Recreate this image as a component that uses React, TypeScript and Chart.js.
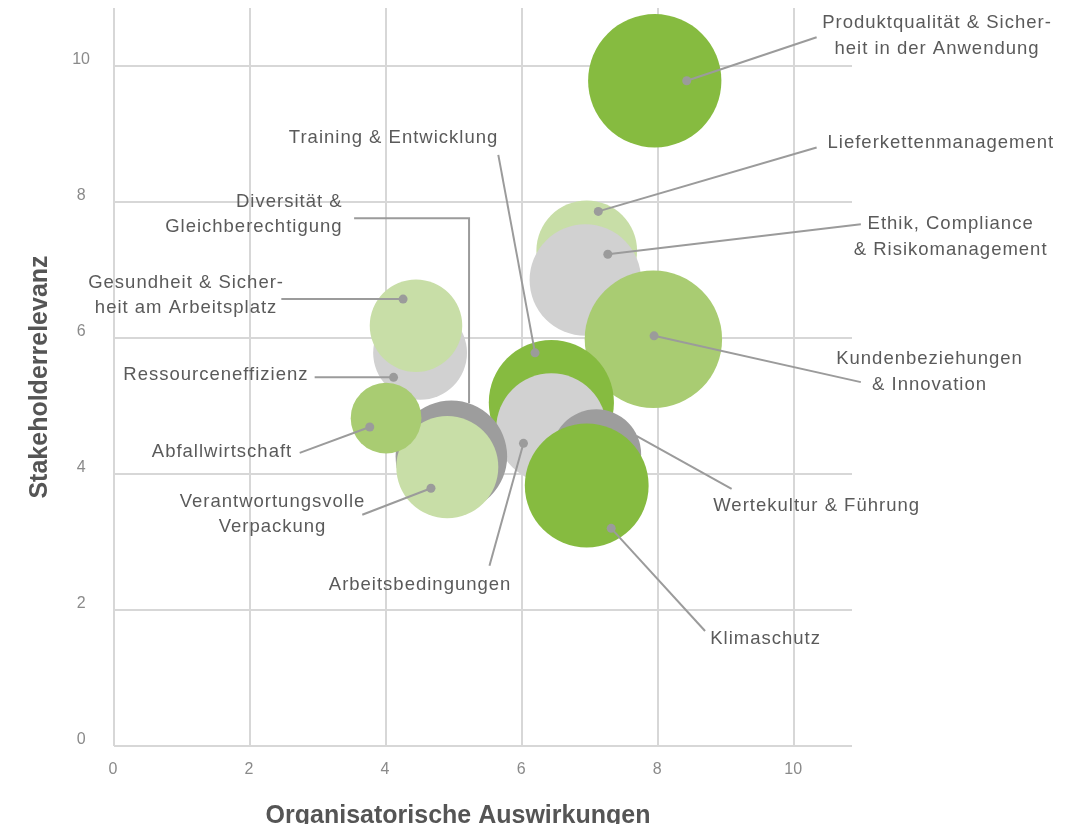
import React, { useEffect, useRef } from "react";
import { Chart, registerables } from "chart.js";

Chart.register(...registerables);

// ---- Data (drawing order: first = bottom) ----
const topics = [
  "Lieferkettenmanagement",
  "Ethik, Compliance & Risikomanagement",
  "Kundenbeziehungen & Innovation",
  "Training & Entwicklung",
  "Arbeitsbedingungen",
  "Wertekultur & Führung",
  "Klimaschutz",
  "Produktqualität & Sicherheit in der Anwendung",
  "Ressourceneffizienz",
  "Gesundheit & Sicherheit am Arbeitsplatz",
  "Diversität & Gleichberechtigung",
  "Verantwortungsvolle Verpackung",
  "Abfallwirtschaft",
];
const impact = [6.95, 6.93, 7.93, 6.43, 6.43, 7.09, 6.95, 7.95, 4.5, 4.44, 4.96, 4.9, 4.0];
const relevance = [7.28, 6.85, 5.98, 5.05, 4.67, 4.29, 3.83, 9.78, 5.78, 6.18, 4.26, 4.1, 4.82];
// bubble radius expressed in axis units
const weight = [0.74, 0.82, 1.01, 0.92, 0.81, 0.66, 0.91, 0.98, 0.69, 0.68, 0.82, 0.75, 0.52];
const group = ["light", "gray", "mid", "dark", "gray", "slate", "dark", "dark", "gray", "light", "slate", "light", "mid"];

const groupColors: Record<string, string> = {
  dark: "#86bb40",
  mid: "#a9cc72",
  light: "#c8dea7",
  gray: "#d1d1d1",
  slate: "#9d9d9d",
};

// ---- Annotation labels (data coordinates) ----
const labelText = [
  "Lieferkettenmanagement",
  "Ethik, Compliance\n& Risikomanagement",
  "Kundenbeziehungen\n& Innovation",
  "Training & Entwicklung",
  "Arbeitsbedingungen",
  "Wertekultur & Führung",
  "Klimaschutz",
  "Produktqualität & Sicher-\nheit in der Anwendung",
  "Ressourceneffizienz",
  "Gesundheit & Sicher-\nheit am Arbeitsplatz",
  "Diversität &\nGleichberechtigung",
  "Verantwortungsvolle\nVerpackung",
  "Abfallwirtschaft",
];
const labelX = [10.49, 12.3, 11.99, 4.11, 4.5, 10.33, 9.58, 12.1, 2.86, 1.06, 3.36, 2.33, 2.62];
const labelY = [8.86, 7.67, 5.69, 8.94, 2.37, 3.53, 1.57, 10.63, 5.45, 6.81, 8.0, 3.59, 4.32];
const labelAlign = ["left", "center", "center", "center", "center", "center", "center", "center", "right", "center", "right", "center", "right"];

// leader line points [x, y, x, y, ...]; first point is the marker dot
const leaders: number[][] = [
  [7.12, 7.86, 10.33, 8.8],
  [7.26, 7.23, 10.98, 7.67],
  [7.94, 6.03, 10.98, 5.35],
  [6.19, 5.78, 5.65, 8.69],
  [6.02, 4.45, 5.52, 2.65],
  [7.68, 4.56, 9.08, 3.78],
  [7.31, 3.2, 8.69, 1.69],
  [8.42, 9.78, 10.33, 10.42],
  [4.11, 5.42, 2.95, 5.42],
  [4.25, 6.57, 2.46, 6.57],
  [5.22, 5.04, 5.22, 7.76, 3.53, 7.76],
  [4.66, 3.79, 3.65, 3.4],
  [3.76, 4.69, 2.73, 4.31],
];
const leaderDot = [true, true, true, true, true, false, true, true, true, true, false, true, true];

const xTicks = [0, 2, 4, 6, 8, 10];
const yTicks = [0, 2, 4, 6, 8, 10];
const axisMax = 10.85;
const xTitle = "Organisatorische Auswirkungen";
const yTitle = "Stakeholderrelevanz";

const TEXT = "#5a5a5a";
const LINE = "#9b9b9b";
const FONT = "'Liberation Sans', Arial, sans-serif";

const annotations = {
  id: "annotations",
  afterDatasetsDraw(chart: any) {
    const { ctx, scales } = chart;
    const sx = scales.x;
    const sy = scales.y;
    ctx.save();
    leaders.forEach((pts, i) => {
      ctx.strokeStyle = LINE;
      ctx.lineWidth = 2;
      ctx.beginPath();
      for (let k = 0; k < pts.length; k += 2) {
        const px = sx.getPixelForValue(pts[k]);
        const py = sy.getPixelForValue(pts[k + 1]);
        if (k === 0) ctx.moveTo(px, py);
        else ctx.lineTo(px, py);
      }
      ctx.stroke();
      if (leaderDot[i]) {
        ctx.fillStyle = LINE;
        ctx.beginPath();
        ctx.arc(sx.getPixelForValue(pts[0]), sy.getPixelForValue(pts[1]), 4.5, 0, Math.PI * 2);
        ctx.fill();
      }
    });
    ctx.fillStyle = TEXT;
    ctx.font = `18.5px ${FONT}`;
    try { (ctx as any).letterSpacing = "1px"; } catch (e) {}
    ctx.textBaseline = "middle";
    labelText.forEach((t, i) => {
      const lines = t.split("\n");
      const px = sx.getPixelForValue(labelX[i]);
      const py = sy.getPixelForValue(labelY[i]);
      ctx.textAlign = labelAlign[i] as CanvasTextAlign;
      lines.forEach((ln, j) => {
        ctx.fillText(ln, px, py + j * 25.5);
      });
    });
    try { (ctx as any).letterSpacing = "0px"; } catch (e) {}
    ctx.fillStyle = "#555";
    ctx.font = `bold 25px ${FONT}`;
    ctx.textAlign = "center";
    ctx.textBaseline = "middle";
    ctx.fillText(xTitle, 450, 808);
    ctx.save();
    ctx.translate(32, (sy.top + sy.bottom) / 2);
    ctx.rotate(-Math.PI / 2);
    ctx.fillText(yTitle, 0, 0);
    ctx.restore();
    ctx.restore();
  },
};

export default function App() {
  const ref = useRef<HTMLCanvasElement | null>(null);
  useEffect(() => {
    if (!ref.current) return;
    const chart = new Chart(ref.current, {
      type: "bubble",
      data: {
        datasets: [
          {
            label: "Themen",
            data: impact.map((x, i) => ({ x, y: relevance[i], r: 1 })),
            backgroundColor: group.map((g) => groupColors[g]),
            borderWidth: 0,
            clip: false as any,
          },
        ],
      },
      options: {
        responsive: false,
        animation: false,
        events: [],
        layout: { autoPadding: false, padding: { top: 0, right: 211, bottom: 0, left: 0 } },
        plugins: { legend: { display: false }, tooltip: { enabled: false } },
        scales: {
          x: {
            type: "linear",
            min: 0,
            max: axisMax,
            afterBuildTicks: (s: any) => {
              s.ticks = xTicks.map((v) => ({ value: v }));
            },
            afterFit: (s: any) => {
              s.height = 78;
              s.paddingLeft = 0;
              s.paddingRight = 0;
            },
            grid: { color: "#d7d7d7", lineWidth: 2, drawTicks: false },
            border: { display: false },
            ticks: {
              color: "#8a8a8a",
              font: { family: FONT, size: 16 },
              padding: 14,
              labelOffset: -1,
              maxRotation: 0,
            },
          },
          y: {
            type: "linear",
            min: 0,
            max: axisMax,
            afterBuildTicks: (s: any) => {
              s.ticks = yTicks.map((v) => ({ value: v }));
            },
            afterFit: (s: any) => {
              s.width = 106;
              s.paddingTop = 0;
              s.paddingBottom = 0;
            },
            grid: { color: "#d7d7d7", lineWidth: 2, drawTicks: false },
            border: { display: false },
            ticks: {
              color: "#8a8a8a",
              font: { family: FONT, size: 16 },
              padding: 24,
              crossAlign: "center",
              labelOffset: -6,
            },
          },
        },
      },
      plugins: [annotations],
    });
    // bubble radii: convert axis-unit sizes to pixels through the x scale
    const sx = chart.scales.x;
    const unit = Math.abs(sx.getPixelForValue(1) - sx.getPixelForValue(0));
    chart.data.datasets[0].data = impact.map((x, i) => ({ x, y: relevance[i], r: weight[i] * unit }));
    chart.update();
    return () => chart.destroy();
  }, []);
  return (
    <div style={{ width: 1055, height: 816 }}>
      <canvas ref={ref} width={1055} height={816} style={{ display: "block", width: 1055, height: 816 }} />
    </div>
  );
}
